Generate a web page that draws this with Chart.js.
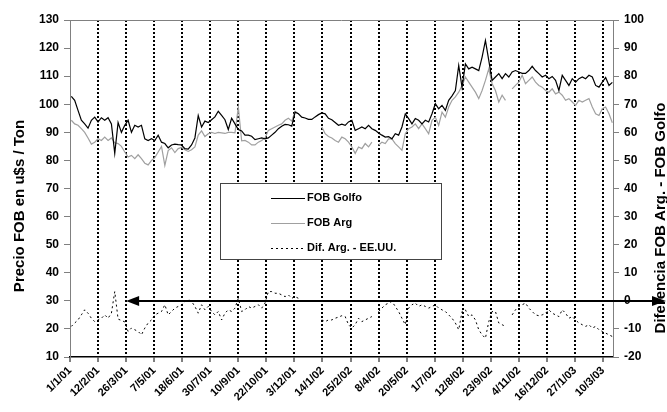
<!DOCTYPE html>
<html>
<head>
<meta charset="utf-8">
<script src="https://cdn.jsdelivr.net/npm/chart.js@4"></script>
<style>
  html, body { margin: 0; padding: 0; background: #fff; }
  #wrap { width: 667px; height: 412px; position: relative; }
</style>
</head>
<body>
<div id="wrap"><canvas id="fobChart"></canvas></div>
<script>

// ─────────────────────────────────────
// DATA  (one sample every 5 days)
// ─────────────────────────────────────

const tickLabels = [
    '1/1/01', '12/2/01', '26/3/01', '7/5/01', '18/6/01', '30/7/01', '10/9/01',
    '22/10/01', '3/12/01', '14/1/02', '25/2/02', '8/4/02', '20/5/02', '1/7/02',
    '12/8/02', '23/9/02', '4/11/02', '16/12/02', '27/1/03', '10/3/03'
];
const tickEveryDays = 42;
const firstDay = 2;
const dayStep = 5;
const lastDay = 813;

const fobGolfo = [
    102.8, 101.4, 97.8, 94.3, 93, 91.5, 94.3, 95.4, 93.7, 95.2,
    94.3, 95.2, 93, 82.5, 93.5, 90, 92.5, 94.3, 90, 92.5,
    91.9, 92.5, 87.7, 87.1, 87.7, 87.1, 89, 86.5, 86, 84.5,
    85.5, 85.8, 85.6, 85.5, 84.2, 84, 85.5, 88, 96, 91.9,
    94, 93.5, 94.5, 95.5, 97.5, 96, 94.5, 91, 95, 93,
    91, 90.5, 89, 89, 88.6, 87.4, 87.7, 88, 87.7, 88,
    89, 90, 91.3, 92.2, 92.8, 92.7, 92.2, 97.2, 96.6, 95.4,
    95.1, 94.6, 94.6, 95.5, 96.3, 96.9, 96.6, 95,
    94.5, 93.5, 92.5, 92.9, 92.5, 93.7, 94.3, 90.7, 91.3, 91.9,
    91.3, 92.5, 91.3, 90.7, 89.8, 89, 88.3, 88.5, 87.7, 89.5,
    89, 91.9, 96.6, 94.9, 93, 94.9, 94.3, 93, 94.3, 93.7,
    96.6, 100.2, 98.4, 99.6, 97.8, 101.4, 103, 104.9, 113.8, 106,
    114.4, 112.6, 113.2, 112.6, 112, 116.8, 122.7, 115.6, 108.5, 109.7,
    110.9, 109.1, 110.9, 109.7, 111.5, 112, 111.5, 111, 111, 112,
    113.5, 112, 110.9, 109.7, 110.3, 109.1, 109.9, 108.5, 104.9, 110.3,
    108.5, 106.7, 109.1, 107.9, 109.1, 109.7, 109.1, 110.3, 109.7, 106.7,
    106.1, 107.9, 109.5, 106.7, 107.8
];

const fobArg = [
    94.3, 93, 92.5, 91.3, 90, 88, 85.8, 86.5, 87.7, 87.1,
    88.3, 87.1, 88, 86.3, 86, 85, 83, 81.2, 81.8, 80.6,
    82, 80.6, 79, 78.4, 80, 81, 83, 85, 78.2, 83.5,
    84.5, 82.8, 84.2, 84.6, 83.8, 83.2, 83.8, 84.8, 89, 90.5,
    88.5, 89.5, 90, 89.6, 90, 89.8, 89.6, 90, 90, 89.8,
    99, 87, 87.1, 86.5, 85.5, 85.5, 86.5, 87.1, 88, 90.7,
    91.3, 91.9, 92.5, 93, 94.3, 95, 94, 97.5, 96.6, null,
    null, null, null, null, null, 92, 89.5, 88.5,
    88, 87.1, 86.5, 88.3, 87.7, 86.5, 84.8, 82.5, 84.8, 84.2,
    86, 84.8, 86.5, null, 85.4, 86.5, 86, 87.7, 87.7, 86,
    84.8, 83.6, 89.5, 91.3, 91.9, 93, 91.3, 93, 91.3, 89.5,
    94.3, 95.4, 92.5, 97.2, 95.4, 99, 101.4, 102.6, 104.3, 106.7,
    109.7, 107.9, 106.1, 104.3, 102, 104.9, 108.5, 112.6, 107.3, 104.9,
    100.8, 103.2, 101.4, null, 105.5, 106.7, 107.9, 110.3, 107.3, 108.5,
    109.7, 107.9, 106.7, 106.1, 104.9, 104.3, 105.5, 103.7, 104.3, 103.2,
    101.4, 102, 100.8, 99.6, 101.4, 100.8, 101.4, 102, 99, 96.6,
    96, 98.4, 99, 96.6, 93.4
];

const difArgEEUU = [
    -9.1, -7.9, -6.8, -5, -3.2, -4.4, -6.2, -7.4, -6.8, -6.2,
    -5, -6.2, -4.4, 3.3, -6.5, -7, -7.5, -10.9, -9.7, -10.3,
    -10.9, -12.1, -9.7, -7.9, -6.8, -5, -4.4, -3.8, -1.4, -5,
    -3.8, -2.6, -2, -1.4, -0.2, 0.4, -0.2, -2, -4.4, -1.4,
    -3.2, -2, -3.8, -5, -3.8, -6.8, -4.4, -3.2, -3.8, -2.6,
    0.9, -3.8, -3.2, -2, -2.6, -2, -1.4, -2.6, -0.8, 3.3,
    3.3, 2.7, 2.7, 2.1, 1.5, 2.1, 0.9, 1.5, 0.9, null,
    null, null, null, null, null, -6.8, -7.4, -6.8,
    -6.8, -6.2, -5.8, -5.3, -5.6, -8.5, -9.7, -8.5, -6.2, -7.4,
    -6.8, -6.2, -5.6, null, -3.8, -2.6, -1.4, -0.8, -0.2, -2,
    -3.8, -6.2, -8.5, -2.6, -1.4, -0.8, -2, -1.4, -2, -2.6,
    -2, -1.4, -2.6, -3.2, -3.8, -5, -6.2, -7.9, -10.3, -3.8,
    -3.2, -5.6, -5, -6.8, -10.3, -12.1, -13.3, -7.4, -3.8, -3.8,
    -7.9, -8.5, -9.1, null, -5, -3.2, -2, -1.4, -0.8, -2.6,
    -3.8, -5, -5.3, -5, -4.4, -3.2, -4.4, -5, -5.6, -3.2,
    -4.4, -6.2, -5.6, -6.8, -7.9, -8.5, -9.1, -8.5, -9.7, -9.1,
    -10.3, -10.9, -11.5, -12.1, -12.7
];

const seriesNames = ['FOB Golfo', 'FOB Arg', 'Dif. Arg. - EE.UU.'];
const leftTitle = 'Precio FOB en u$s / Ton';
const rightTitle = 'Diferencia FOB Arg. - FOB Golfo';


// ─────────────────────────────────────
// BUILD POINTS
// ─────────────────────────────────────

const toPoints = arr => arr.map((v, i) => ({ x: firstDay + i * dayStep, y: v }));

const FONT = '"Liberation Sans", Arial, sans-serif';


// ─────────────────────────────────────
// EXTRA DRAWING: top border, zero arrow, legend, axis titles
// ─────────────────────────────────────

const extras = {
    id: 'extras',
    afterDraw(chart) {
        const { ctx, chartArea: a, scales } = chart;
        ctx.save();

        // top border of the plot
        ctx.strokeStyle = '#808080';
        ctx.lineWidth = 1;
        ctx.beginPath();
        ctx.moveTo(a.left, a.top + 0.5);
        ctx.lineTo(a.right, a.top + 0.5);
        ctx.stroke();

        // zero line with arrows
        const y0 = Math.round(scales.y2.getPixelForValue(0));
        const xs = scales.x.getPixelForValue(2 * tickEveryDays);
        const xe = chart.width - 1;
        ctx.strokeStyle = '#000';
        ctx.fillStyle = '#000';
        ctx.lineWidth = 2;
        ctx.beginPath();
        ctx.moveTo(xs + 10, y0);
        ctx.lineTo(xe - 10, y0);
        ctx.stroke();
        ctx.beginPath();
        ctx.moveTo(xs, y0);
        ctx.lineTo(xs + 13, y0 - 5);
        ctx.lineTo(xs + 13, y0 + 5);
        ctx.closePath();
        ctx.fill();
        ctx.beginPath();
        ctx.moveTo(xe, y0);
        ctx.lineTo(xe - 14, y0 - 5);
        ctx.lineTo(xe - 14, y0 + 5);
        ctx.closePath();
        ctx.fill();

        // legend box
        ctx.fillStyle = '#fff';
        ctx.fillRect(221, 184, 220, 75);
        ctx.strokeStyle = '#444';
        ctx.lineWidth = 1;
        ctx.strokeRect(220.5, 183.5, 221, 76);

        const rows = [198, 223, 248];
        const styles = [
            { color: '#000', dash: [] },
            { color: '#a0a0a0', dash: [] },
            { color: '#000', dash: [2, 3] }
        ];
        ctx.font = 'bold 11px ' + FONT;
        ctx.textBaseline = 'middle';
        ctx.textAlign = 'left';
        rows.forEach((ry, i) => {
            ctx.strokeStyle = styles[i].color;
            ctx.setLineDash(styles[i].dash);
            ctx.lineWidth = 1.2;
            ctx.beginPath();
            ctx.moveTo(271, ry + 0.5);
            ctx.lineTo(305, ry + 0.5);
            ctx.stroke();
            ctx.setLineDash([]);
            ctx.fillStyle = '#000';
            ctx.fillText(seriesNames[i], 307, ry);
        });

        // axis titles, both read bottom to top
        ctx.font = 'bold 15px ' + FONT;
        ctx.textAlign = 'center';
        ctx.fillStyle = '#000';
        ctx.translate(20, 206);
        ctx.rotate(-Math.PI / 2);
        ctx.fillText(leftTitle, 0, 0);
        ctx.rotate(Math.PI / 2);
        ctx.translate(-20, -206);
        ctx.translate(661, 218);
        ctx.rotate(-Math.PI / 2);
        ctx.fillText(rightTitle, 0, 0);

        ctx.restore();
    }
};


// ─────────────────────────────────────
// CHART
// ─────────────────────────────────────

new Chart(document.getElementById('fobChart'), {

    type: 'line',

    data: {
        datasets: [
            {
                label: seriesNames[0],
                data: toPoints(fobGolfo),
                borderColor: '#000',
                borderWidth: 1.2,
                yAxisID: 'y'
            },
            {
                label: seriesNames[1],
                data: toPoints(fobArg),
                borderColor: '#a0a0a0',
                borderWidth: 1.2,
                yAxisID: 'y'
            },
            {
                label: seriesNames[2],
                data: toPoints(difArgEEUU),
                borderColor: '#000',
                borderWidth: 1,
                borderDash: [2, 3],
                yAxisID: 'y2'
            }
        ]
    },

    options: {
        responsive: true,
        maintainAspectRatio: false,
        animation: false,
        spanGaps: false,
        elements: {
            point: { radius: 0 },
            line: { tension: 0 }
        },
        layout: {
            padding: { top: 20, left: 0, right: 0, bottom: 0 }
        },
        plugins: {
            legend: { display: false },
            tooltip: { enabled: false }
        },
        scales: {
            x: {
                type: 'linear',
                min: 0,
                max: lastDay,
                afterFit: s => { s.height = 55; },
                afterBuildTicks: s => {
                    s.ticks = tickLabels.map((_, i) => ({ value: i * tickEveryDays }));
                },
                grid: {
                    color: c => c.index === 0 ? 'rgba(0,0,0,0)' : '#000',
                    lineWidth: 2,
                    drawTicks: true,
                    tickLength: 5,
                    tickColor: '#000',
                    tickWidth: 1,
                    tickBorderDash: []
                },
                border: { color: '#000', width: 1.5, dash: [2, 2] },
                ticks: {
                    autoSkip: false,
                    maxRotation: 45,
                    minRotation: 45,
                    padding: 2,
                    color: '#000',
                    font: { family: FONT, size: 11, weight: 'bold' },
                    callback: v => tickLabels[Math.round(v / tickEveryDays)]
                }
            },
            y: {
                position: 'left',
                min: 10,
                max: 130,
                afterFit: s => { s.width = 70; },
                grid: {
                    drawOnChartArea: false,
                    tickLength: 6,
                    tickColor: '#808080'
                },
                border: { color: '#808080', width: 1 },
                ticks: {
                    stepSize: 10,
                    padding: 5,
                    color: '#000',
                    font: { family: FONT, size: 12, weight: 'bold' }
                }
            },
            y2: {
                position: 'right',
                min: -20,
                max: 100,
                afterFit: s => { s.width = 54; },
                grid: {
                    drawOnChartArea: false,
                    tickLength: 6,
                    tickColor: '#808080'
                },
                border: { color: '#808080', width: 1 },
                ticks: {
                    stepSize: 10,
                    padding: 5,
                    color: '#000',
                    font: { family: FONT, size: 12, weight: 'bold' }
                }
            }
        }
    },

    plugins: [extras]
});

</script>
</body>
</html>
